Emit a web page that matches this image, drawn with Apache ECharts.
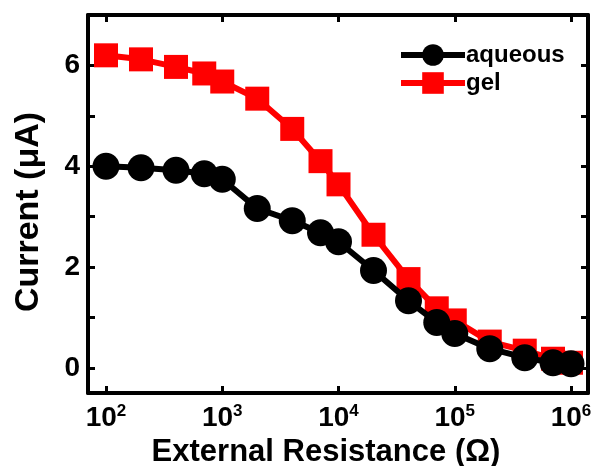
<!DOCTYPE html>
<html>
<head>
<meta charset="utf-8">
<script src="https://cdn.jsdelivr.net/npm/echarts@6/dist/echarts.min.js"></script>
<style>
  html, body { margin: 0; padding: 0; background: #fff; }
  #main { width: 595px; height: 466px; }
</style>
</head>
<body>
<div id="main"></div>
<script>
// resistance values (ohm)
var resistance = [100, 200, 400, 700, 1000, 2000, 4000, 7000, 10000, 20000, 40000, 70000, 100000, 200000, 400000, 700000, 1000000];
// current (uA)
var aqueous = [4.0, 3.97, 3.92, 3.85, 3.74, 3.16, 2.92, 2.68, 2.5, 1.93, 1.33, 0.9, 0.68, 0.38, 0.2, 0.1, 0.08];
var gel = [6.2, 6.12, 5.97, 5.84, 5.68, 5.34, 4.74, 4.1, 3.64, 2.64, 1.76, 1.18, 0.94, 0.52, 0.34, 0.18, 0.1];
var yTicks = [0, 1, 2, 3, 4, 5, 6, 7];
var yLabels = [0, 2, 4, 6];

var font = '"Liberation Sans", Arial, sans-serif';

function pairs(xs, ys) {
    var out = [];
    for (var i = 0; i < xs.length; i++) out.push([xs[i], ys[i]]);
    return out;
}

var myChart = echarts.init(document.getElementById('main'));

var axisLine = { show: true, onZero: false, lineStyle: { color: '#000', width: 4 } };
var xTick = { show: true, inside: true, length: 7, lineStyle: { color: '#000', width: 3 } };
var yTick = { show: true, inside: true, length: 7, customValues: yTicks, lineStyle: { color: '#000', width: 3 } };

var option = {
    animation: false,
    grid: { left: 88, top: 15, right: 7, bottom: 73, containLabel: false, outerBoundsMode: 'none' },
    legend: {
        left: 393, top: 38,
        orient: 'vertical',
        itemWidth: 64, itemHeight: 27, itemGap: 4,
        lineStyle: { width: 6 },
        textStyle: { fontFamily: font, fontWeight: 'bold', fontSize: 24, color: '#000', padding: [0, 0, 0, -4] },
        data: ['aqueous', 'gel']
    },
    xAxis: [
        {
            type: 'log', logBase: 10, min: 70, max: 1.4e6,
            axisLine: axisLine, axisTick: xTick, splitLine: { show: false },
            axisLabel: {
                margin: 10,
                formatter: function (v) {
                    var p = Math.round(Math.log10(v));
                    if (Math.abs(Math.log10(v) - p) > 1e-6) return '';
                    return '{a|10}{b|' + p + '}';
                },
                rich: {
                    a: { fontFamily: font, fontWeight: 'bold', fontSize: 28, color: '#000', lineHeight: 30 },
                    b: { fontFamily: font, fontWeight: 'bold', fontSize: 17, color: '#000', verticalAlign: 'top', lineHeight: 18 }
                }
            },
            name: 'External Resistance (\u03a9)', nameLocation: 'middle', nameGap: 42,
            nameTextStyle: { fontFamily: font, fontWeight: 'bold', fontSize: 31, color: '#000', padding: [0, 24, 0, 0] }
        },
        {
            type: 'log', logBase: 10, min: 70, max: 1.4e6, position: 'top',
            axisLine: axisLine, axisTick: xTick, axisLabel: { show: false }, splitLine: { show: false }
        }
    ],
    yAxis: [
        {
            type: 'value', min: -0.5, max: 7,
            axisLine: axisLine, axisTick: yTick, splitLine: { show: false },
            axisLabel: {
                margin: 8, fontFamily: font, fontWeight: 'bold', fontSize: 28, color: '#000',
                customValues: yLabels
            },
            name: 'Current (\u03bcA)', nameLocation: 'middle', nameGap: 42,
            nameTextStyle: { fontFamily: font, fontWeight: 'bold', fontSize: 34, color: '#000', padding: [0, 16, 0, 0] }
        },
        {
            type: 'value', min: -0.5, max: 7, position: 'right',
            axisLine: axisLine, axisTick: yTick, axisLabel: { show: false }, splitLine: { show: false }
        }
    ],
    series: [
        {
            name: 'aqueous', type: 'line', data: pairs(resistance, aqueous),
            symbol: 'circle', symbolSize: 27,
            lineStyle: { color: '#000', width: 6 },
            itemStyle: { color: '#000' }
        },
        {
            name: 'gel', type: 'line', data: pairs(resistance, gel), z: 1,
            symbol: 'rect', symbolSize: 24,
            lineStyle: { color: '#ff0000', width: 6 },
            itemStyle: { color: '#ff0000' }
        }
    ]
};

myChart.setOption(option);
</script>
</body>
</html>
